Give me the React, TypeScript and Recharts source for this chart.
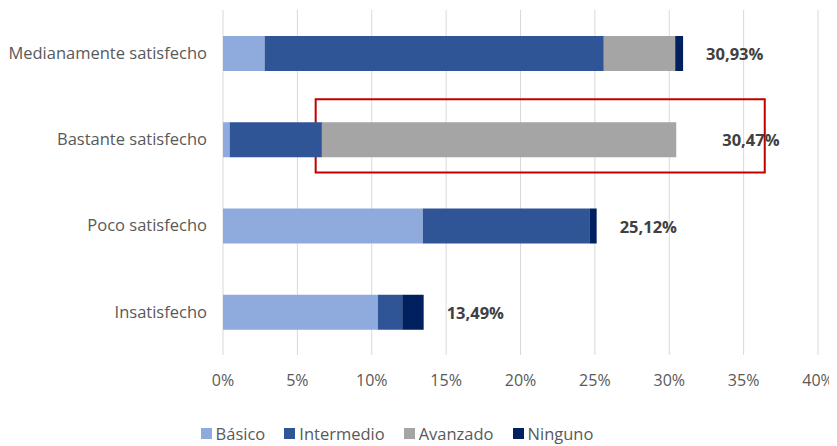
import React from 'react';
import { BarChart, Bar, XAxis, YAxis, CartesianGrid, Legend, LabelList, ReferenceArea } from 'recharts';

const categories = ['Medianamente satisfecho', 'Bastante satisfecho', 'Poco satisfecho', 'Insatisfecho'];
const basico = [2.8, 0.45, 13.43, 10.41];
const intermedio = [22.8, 6.2, 11.2, 1.64];
const avanzado = [4.8, 23.82, 0, 0];
const ninguno = [0.53, 0, 0.49, 1.44];
const totals = [30.93, 30.47, 25.12, 13.49];
const xTicks = [0, 5, 10, 15, 20, 25, 30, 35, 40];
const seriesKeys = ['basico', 'intermedio', 'avanzado', 'ninguno'];
const seriesNames = ['Básico', 'Intermedio', 'Avanzado', 'Ninguno'];
const seriesColors = ['#8FAADC', '#2F5597', '#A5A5A5', '#002060'];
const highlightCategory = 'Bastante satisfecho';
const highlightRange = [6.23, 36.42];

const seriesValues = [basico, intermedio, avanzado, ninguno];

const data = categories.map((c, i) => ({
  category: c,
  basico: basico[i],
  intermedio: intermedio[i],
  avanzado: avanzado[i],
  ninguno: ninguno[i],
  total: totals[i],
}));

// index of the last non-zero series in each row (the one that carries the total label)
const lastSeries = categories.map((_, row) => {
  let last = 0;
  seriesValues.forEach((vals, s) => {
    if (vals[row] > 0) last = s;
  });
  return last;
});

const FONT = "'Open Sans', 'Liberation Sans', sans-serif";

const fmtPct = (v: number) => v.toFixed(2).replace('.', ',') + '%';

const makeTotalLabel = (seriesIndex: number) => (props: any) => {
  const { x, y, width, height, value } = props;
  const row = totals.indexOf(Number(value));
  if (row < 0 || lastSeries[row] !== seriesIndex) return null;
  // the label of a row whose last series is empty sits a little further out, as in the original
  const offset = seriesIndex === seriesKeys.length - 1 ? 23 : 46;
  return (
    <text
      x={Number(x) + Number(width) + offset}
      y={Number(y) + Number(height) / 2}
      dominantBaseline="central"
      textAnchor="start"
      fill="#404040"
      fontWeight={700}
      fontSize={16.5}
      fontFamily={FONT}
    >
      {fmtPct(totals[row])}
    </text>
  );
};

const HighlightBox = (props: any) => {
  const { x, y, width, height } = props;
  return (
    <rect
      x={x}
      y={Number(y) + 3}
      width={width}
      height={Number(height) - 13}
      fill="none"
      stroke="#C00000"
      strokeWidth={2}
    />
  );
};

const LegendContent = () => (
  <div
    style={{
      display: 'flex',
      justifyContent: 'center',
      alignItems: 'center',
      height: 30,
      paddingTop: 2,
      paddingRight: 24,
      fontFamily: FONT,
      fontSize: 16.5,
      color: '#595959',
    }}
  >
    {seriesNames.map((n, i) => (
      <div
        key={n}
        style={{ display: 'flex', alignItems: 'center', marginRight: i === seriesNames.length - 1 ? 0 : 19 }}
      >
        <span
          style={{ display: 'inline-block', width: 11, height: 11, background: seriesColors[i], marginRight: 4 }}
        />
        <span>{n}</span>
      </div>
    ))}
  </div>
);

export default function App() {
  return (
    <div style={{ marginLeft: -8, marginTop: -8, width: 837, height: 446, background: '#fff' }}>
      <BarChart
        width={837}
        height={446}
        data={data}
        layout="vertical"
        margin={{ top: 10, right: 19, bottom: 0, left: 0 }}
        barSize={35}
        style={{ fontFamily: FONT }}
      >
        <CartesianGrid horizontal={false} stroke="#D9D9D9" />
        <XAxis
          type="number"
          domain={[0, 40]}
          ticks={xTicks}
          tickFormatter={(v: number) => `${v}%`}
          axisLine={false}
          tickLine={false}
          tickSize={0}
          tickMargin={20}
          height={61}
          tick={{ fill: '#595959', fontSize: 16, fontFamily: FONT }}
          interval={0}
        />
        <YAxis
          type="category"
          dataKey="category"
          width={223}
          axisLine={false}
          tickLine={false}
          tickSize={0}
          tickMargin={16}
          tick={{ fill: '#595959', fontSize: 16.5, fontFamily: FONT }}
        />
        <Legend verticalAlign="bottom" height={30} content={<LegendContent />} />
        {seriesKeys.map((k, i) => (
          <Bar
            key={k}
            dataKey={k}
            name={seriesNames[i]}
            stackId="a"
            fill={seriesColors[i]}
            isAnimationActive={false}
          >
            <LabelList dataKey="total" content={makeTotalLabel(i)} />
          </Bar>
        ))}
        <ReferenceArea
          x1={highlightRange[0]}
          x2={highlightRange[1]}
          y1={highlightCategory}
          y2={highlightCategory}
          shape={<HighlightBox />}
          ifOverflow="visible"
        />
      </BarChart>
    </div>
  );
}
